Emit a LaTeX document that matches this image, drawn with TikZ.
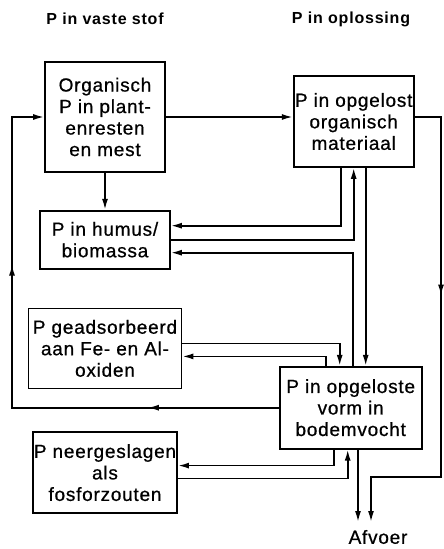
\documentclass[tikz,border=0pt]{standalone}
\usepackage{fontspec}
\setmainfont{Liberation Sans}
\newfontfamily\vakfont{Liberation Sans}[FakeBold=0.7, LetterSpace=4]
\usepackage{tikz}
\usetikzlibrary{arrows.meta,positioning,decorations.markings}
\newcommand{\pijl}{\arrow{Latex[length=11pt,width=6pt]}}

\begin{document}
\begin{tikzpicture}[
  x=1pt, y=-1pt,
  box/.style={draw, line width=1.7pt, align=center, inner sep=1pt, font=\vakfont\fontsize{19}{21.5}\selectfont},
  head/.style={font=\addfontfeatures{LetterSpace=5}\fontsize{16}{18}\selectfont\bfseries},
  arr/.style={-{Latex[length=11pt,width=6pt]}, line width=1.7pt}
]
\useasboundingbox (0,0) rectangle (444,549);
\node[head] (hvast) at (105,19) {P in vaste stof};
\node[head] (hopl) at (351,19) {P in oplossing};

\node[box, minimum width=120pt, minimum height=110pt] (org) at (105,117) {Organisch\\P in plant-\\enresten\\en mest};
\node[box, minimum width=120pt, minimum height=91pt, right=127pt of org, yshift=-4.5pt] (opg) {P in opgelost\\organisch\\materiaal};
\node[box, minimum width=130pt, minimum height=58pt, below=37pt of org] (humus) {P in humus/\\biomassa};
\node[box, minimum width=153pt, minimum height=80pt, below=38pt of humus] (ads) {P geadsorbeerd\\aan Fe- en Al-\\oxiden};
\node[box, minimum width=144pt, minimum height=81pt, below=42pt of ads] (neer) {P neergeslagen\\als\\fosforzouten};
\node[box, minimum width=142pt, minimum height=82pt, below=198pt of opg, xshift=-3pt] (sol) {P in opgeloste\\vorm in\\bodemvocht};

\coordinate (links) at (12,0);
\coordinate (rbocht) at (441,477);
\coordinate (afvl) at (358,522);
\coordinate (afvr) at (371,522);
\node[box, draw=none] (afvoer) at (378,537) {Afvoer};

\draw[arr] (org.east) -- (org.east -| opg.west);
\draw[arr] (org) -- (humus);
\draw[arr] ([xshift=-13pt]opg.south) |- ([yshift=14pt]humus.east);
\draw[arr] (humus.east) -| (opg.south);
\draw[arr] ([xshift=2pt]sol.north) |- ([yshift=-13pt]humus.east);
\draw[arr] ([xshift=12pt]opg.south) -- ([xshift=12pt]opg.south |- sol.north);
\draw[arr] ([yshift=5pt]ads.east) -| ([xshift=-11pt]sol.north);
\draw[arr] ([xshift=-25pt]sol.north) |- ([yshift=-8pt]ads.east);
\draw[arr] ([xshift=-17pt]sol.south) |- ([yshift=7pt]neer.east);
\draw[arr] ([yshift=-6pt]neer.east) -| ([xshift=-3pt]sol.south);
\draw[arr] (sol.south -| afvl) -- (afvl);
\draw[arr, postaction={decorate}, decoration={markings, mark=at position 131pt with {\pijl}, mark=at position 410pt with {\pijl}}]
  (sol.west) -- (sol.west -| links) |- (org.west);
\draw[arr, postaction={decorate}, decoration={markings, mark=at position 205pt with {\pijl}}]
  (org.east -| opg.east) -| (rbocht) -| (afvr);
\end{tikzpicture}
\end{document}
